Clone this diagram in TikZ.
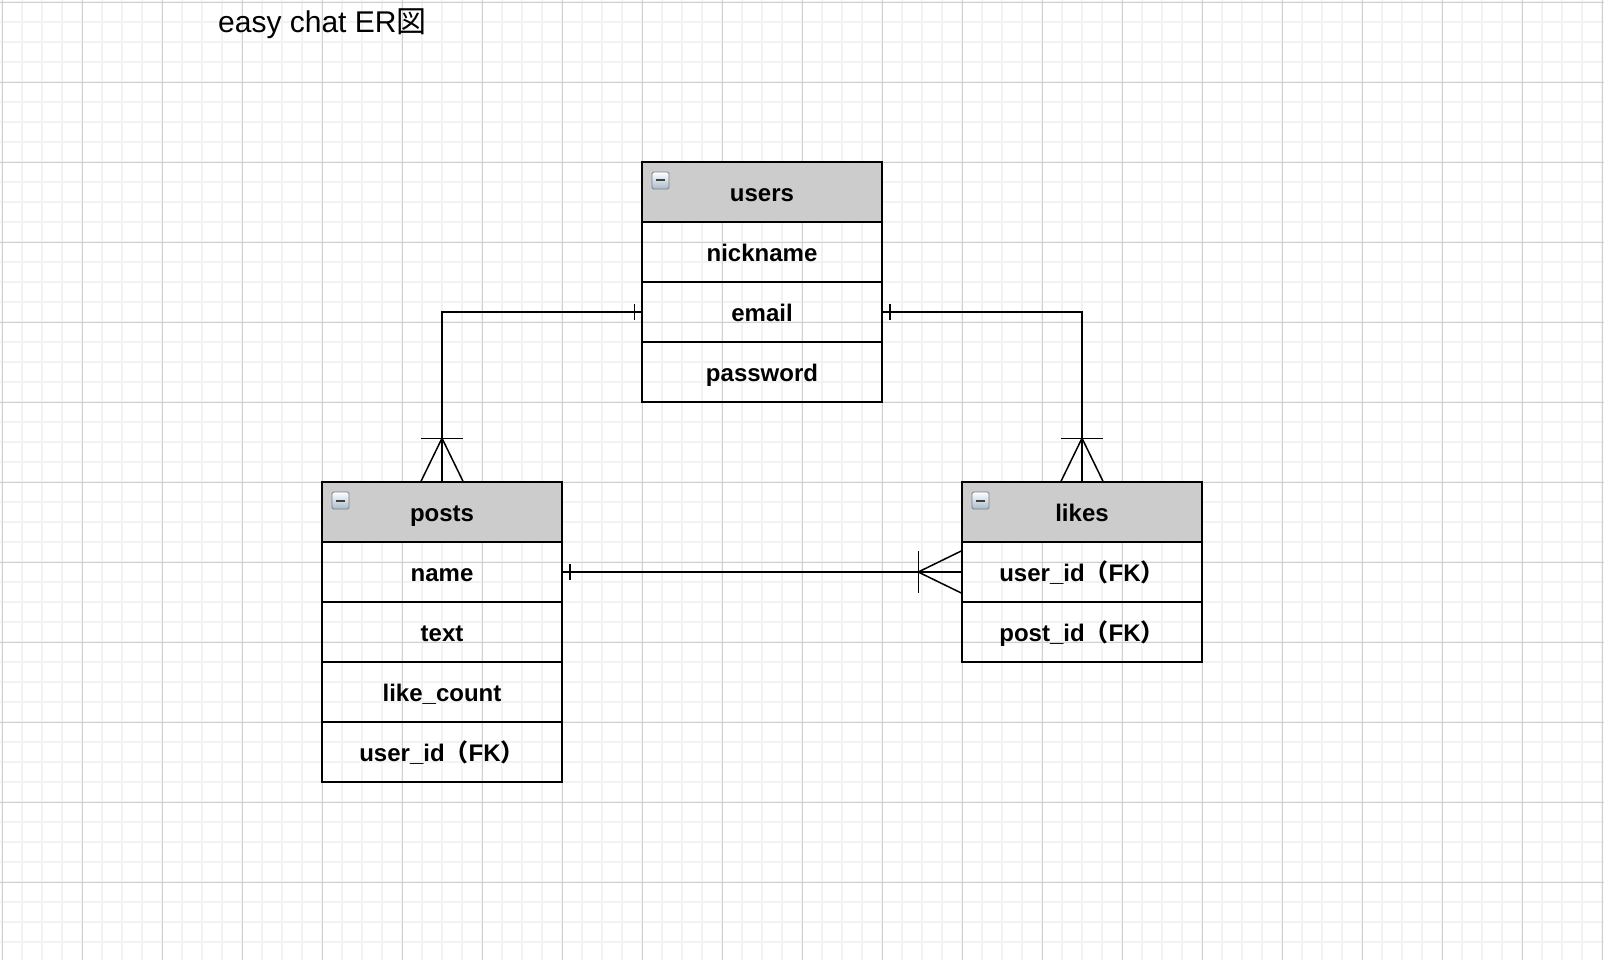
\documentclass[tikz,border=0pt]{standalone}
\usepackage{fontspec}
\setmainfont{Liberation Sans}
\newfontfamily\jpfont{Noto Sans CJK JP}
\usetikzlibrary{positioning,calc}
\definecolor{hdgray}{HTML}{CCCCCC}
\definecolor{gridmajor}{HTML}{D0D0D0}
\definecolor{gridminor}{HTML}{F2F2F2}
\definecolor{iconblue}{HTML}{A9BACB}
\tikzstyle{field}=[draw, line width=1.5pt, minimum width=240pt, minimum height=60pt, inner sep=0pt, text height=20pt, text depth=0.6pt, font=\bfseries\fontsize{24}{28}\selectfont]
\tikzstyle{head}=[field, fill=hdgray]
\tikzstyle{icon}=[draw=iconblue!70!black, line width=0.8pt, rounded corners=1.5pt, minimum size=17pt, inner sep=0pt, top color=white, bottom color=iconblue,
  path picture={\draw[line width=2pt, black!75] ([xshift=4pt]path picture bounding box.west) -- ([xshift=-4pt]path picture bounding box.east);}]
\tikzstyle{rel}=[line width=1.5pt]

\begin{document}
\begin{tikzpicture}[x=1pt, y=-1pt]
				\useasboundingbox (0,0) rectangle (1604,960);
				\fill[white] (0,0) rectangle (1604,960);
				\begin{scope}[shift={(2,2)}]
				\draw[gridminor, line width=1.5pt] (-2,-2) grid[step=20pt] (1602,958);
				\draw[gridmajor, line width=0.8pt] (-2,-2) grid[step=80pt] (1602,958);
				\end{scope}
				
				\node (title)[anchor=base west, inner sep=0pt, font=\fontsize{30}{36}\selectfont] at (218,33){easy chat ER{\jpfont 図}};
				
				% users
				\node (users)[head] at (762,192){users};
				\node (nick)[field] at (762,252){nickname};
				\node (email)[field] at (762,312){email};
				\node (pass)[field] at (762,372){password};
				\node (usersicon)[icon] at (660.5,180.5){};
				
				% posts
				\node (posts)[head] at (442,512){posts};
				\node (name)[field] at (442,572){name};
				\node (text)[field] at (442,632){text};
				\node (count)[field] at (442,692){like\_count};
				\node (puser)[field] at (442,752){user\_id{\jpfont （}FK{\jpfont ）}};
				\node (postsicon)[icon] at (340.5,500.5){};
				
				% likes
				\node (likes)[head] at (1082,512){likes};
				\node (luser)[field] at (1082,572){user\_id{\jpfont （}FK{\jpfont ）}};
				\node (lpost)[field] at (1082,632){post\_id{\jpfont （}FK{\jpfont ）}};
				\node (likesicon)[icon] at (980.5,500.5){};
				
				\draw[rel](email.west) -| (posts.north);
				\draw[rel](email.east) -| (likes.north);
				\draw[rel](name.east) -- (luser.west);
				
				% one
				\draw[rel]([xshift=-7pt,yshift=8pt]email.west) -- ([xshift=-7pt,yshift=-8pt]email.west);
				\draw[rel]([xshift=7pt,yshift=8pt]email.east) -- ([xshift=7pt,yshift=-8pt]email.east);
				\draw[rel]([xshift=7pt,yshift=8pt]name.east) -- ([xshift=7pt,yshift=-8pt]name.east);
				% many
				\draw[rel]([xshift=-21pt]posts.north) -- ([yshift=43pt]posts.north) -- ([xshift=21pt]posts.north);
				\draw[rel]([xshift=-21pt,yshift=43pt]posts.north) -- ([xshift=21pt,yshift=43pt]posts.north);
				\draw[rel]([xshift=-21pt]likes.north) -- ([yshift=43pt]likes.north) -- ([xshift=21pt]likes.north);
				\draw[rel]([xshift=-21pt,yshift=43pt]likes.north) -- ([xshift=21pt,yshift=43pt]likes.north);
				\draw[rel]([yshift=21pt]luser.west) -- ([xshift=-43pt]luser.west) -- ([yshift=-21pt]luser.west);
				\draw[rel]([xshift=-43pt,yshift=21pt]luser.west) -- ([xshift=-43pt,yshift=-21pt]luser.west);
			\end{tikzpicture}
\end{document}
